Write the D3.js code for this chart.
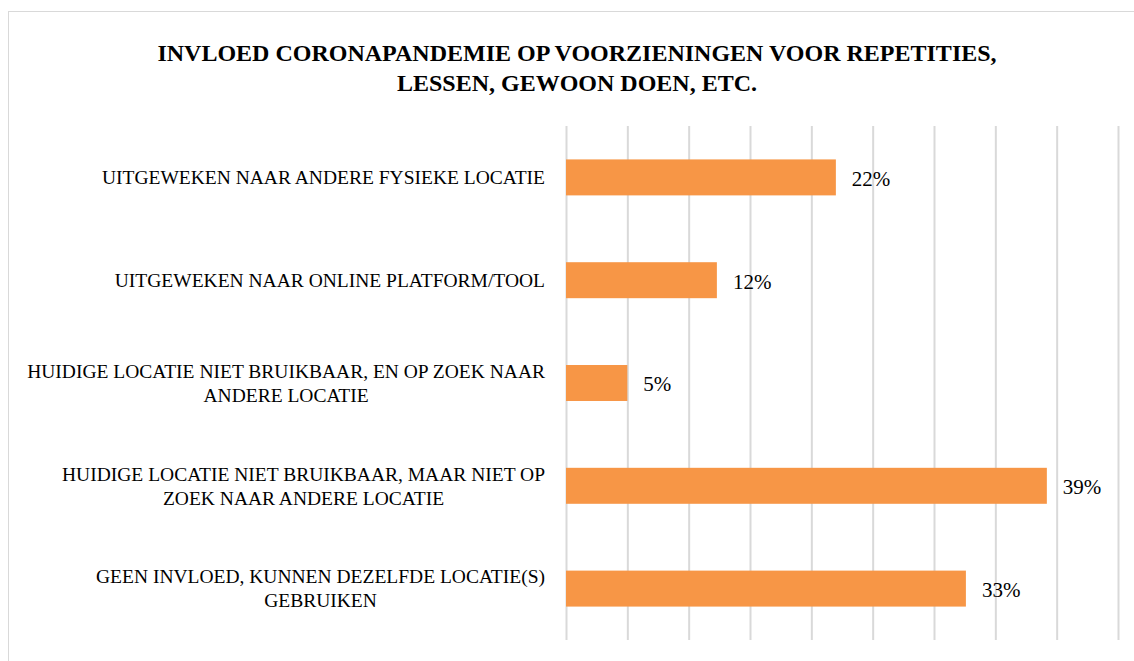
<!DOCTYPE html>
<html><head><meta charset="utf-8">
<title>Invloed coronapandemie</title>
<script src="https://cdn.jsdelivr.net/npm/d3@7"></script>
<style>
body { margin: 0; background: #fff; }
text { font-family: "Liberation Serif", "DejaVu Serif", serif; fill: #000; }
</style>
</head>
<body>
<script>
// chart data
var categories = [
	"UITGEWEKEN NAAR ANDERE FYSIEKE LOCATIE",
	"UITGEWEKEN NAAR ONLINE PLATFORM/TOOL",
	"HUIDIGE LOCATIE NIET BRUIKBAAR, EN OP ZOEK NAAR ANDERE LOCATIE",
	"HUIDIGE LOCATIE NIET BRUIKBAAR, MAAR NIET OP ZOEK NAAR ANDERE LOCATIE",
	"GEEN INVLOED, KUNNEN DEZELFDE LOCATIE(S) GEBRUIKEN"
];
var values = [22.0, 12.3, 5.0, 39.2, 32.6];
var titleLines = [
	"INVLOED CORONAPANDEMIE OP VOORZIENINGEN VOOR REPETITIES,",
	"LESSEN, GEWOON DOEN, ETC."
];
var gridTicks = [0, 5, 10, 15, 20, 25, 30, 35, 40, 45];

var width = 1134;
var height = 661;
var svg = d3.select("body").append("svg").attr("width", width).attr("height", height);

// chart frame
svg.append("rect")
	.attr("x", 8.5).attr("y", 11.5)
	.attr("width", width).attr("height", height)
	.attr("fill", "#fff").attr("stroke", "#d9d9d9");

svg.append("g").selectAll("text").data(titleLines).enter().append("text")
	.attr("x", 577)
	.attr("y", function(d, i) { return 61 + i * 30; })
	.attr("text-anchor", "middle")
	.attr("font-weight", "bold")
	.attr("font-size", "24px")
	.text(function(d) { return d; });

var x = d3.scaleLinear().domain([0, 45]).range([566, 1118]);
var y = d3.scaleBand().domain(categories).range([126, 640]).paddingInner(0.65).paddingOuter(0.325);

// vertical gridlines
svg.append("g")
	.attr("transform", "translate(0,640)")
	.call(d3.axisBottom(x).tickValues(gridTicks).tickSize(-514).tickFormat(""))
	.call(function(g) {
		g.select(".domain").remove();
		g.selectAll("line").attr("stroke", "#d9d9d9").attr("stroke-width", 2);
	});

svg.append("g").selectAll("rect").data(values).enter().append("rect")
	.attr("x", x(0))
	.attr("y", function(d, i) { return y(categories[i]); })
	.attr("width", function(d) { return x(d) - x(0); })
	.attr("height", y.bandwidth())
	.attr("fill", "#f79646");

svg.append("g").selectAll("text").data(values).enter().append("text")
	.attr("x", function(d) { return x(d) + 16; })
	.attr("y", function(d, i) { return y(categories[i]) + y.bandwidth() / 2; })
	.attr("dy", "0.4em")
	.attr("font-size", "21px")
	.text(function(d) { return Math.round(d) + "%"; });

// category labels, wrapped and centred like Excel does
var labelRight = 545;
var maxW = 530;
var labels = svg.append("g").selectAll("text").data(categories).enter().append("text")
	.attr("font-size", "19.5px")
	.attr("text-anchor", "middle");

labels.each(function(d) {
	var t = d3.select(this);
	var words = d.split(" ");
	var lines = [];
	var line = [];
	var probe = t.append("tspan");
	words.forEach(function(w) {
		line.push(w);
		probe.text(line.join(" "));
		if (probe.node().getComputedTextLength() > maxW && line.length > 1) {
			line.pop();
			lines.push(line.join(" "));
			line = [w];
		}
	});
	lines.push(line.join(" "));
	probe.remove();
	var widths = lines.map(function(l) {
		var p = t.append("tspan").text(l);
		var w = p.node().getComputedTextLength();
		p.remove();
		return w;
	});
	var blockW = d3.max(widths);
	var cx = labelRight - blockW / 2;
	var cy = y(d) + y.bandwidth() / 2;
	var lh = 24;
	lines.forEach(function(l, i) {
		t.append("tspan")
			.attr("x", cx)
			.attr("y", cy + (i - (lines.length - 1) / 2) * lh)
			.attr("dy", "0.35em")
			.text(l);
	});
});
</script>
</body></html>
